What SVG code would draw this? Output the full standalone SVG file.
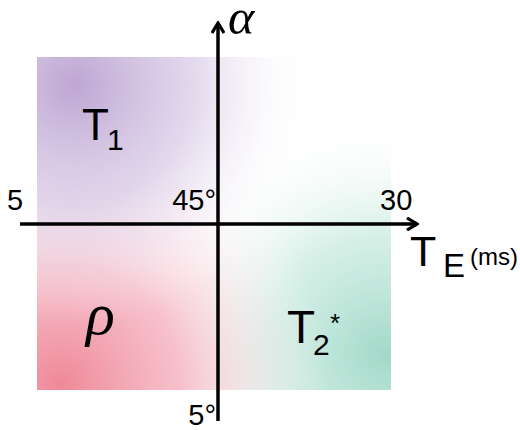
<svg xmlns="http://www.w3.org/2000/svg" width="520" height="430" viewBox="0 0 520 430">
  <style>
    .lbl { font-family: "Liberation Sans", Arial, sans-serif; fill: #000; }
    .greek { font-family: "Liberation Serif", "Times New Roman", serif; font-style: italic; fill: #000; }
    .axis { stroke: #000; stroke-width: 3.5; fill: none; }
  </style>
  <defs>
    <radialGradient id="gPurple" gradientUnits="userSpaceOnUse" cx="75" cy="85" r="240">
      <stop offset="0" stop-color="#bea6d3" stop-opacity="1"/>
      <stop offset="0.5" stop-color="#d9cce7" stop-opacity="0.75"/>
      <stop offset="1" stop-color="#ffffff" stop-opacity="0"/>
    </radialGradient>
    <radialGradient id="gPink" gradientUnits="userSpaceOnUse" cx="60" cy="385" r="270">
      <stop offset="0" stop-color="#ef8898" stop-opacity="1"/>
      <stop offset="0.45" stop-color="#f5b6c3" stop-opacity="0.85"/>
      <stop offset="1" stop-color="#ffffff" stop-opacity="0"/>
    </radialGradient>
    <radialGradient id="gTeal" gradientUnits="userSpaceOnUse" cx="385" cy="355" r="240">
      <stop offset="0" stop-color="#a2d9c8" stop-opacity="1"/>
      <stop offset="0.5" stop-color="#c8eae0" stop-opacity="0.75"/>
      <stop offset="1" stop-color="#ffffff" stop-opacity="0"/>
    </radialGradient>
    <marker id="arrow" viewBox="0 0 14 14" refX="12" refY="7" markerWidth="14" markerHeight="14" markerUnits="userSpaceOnUse" orient="auto">
      <path d="M2,1 L12,7 L2,13" fill="none" stroke="#000" stroke-width="3.2" stroke-linejoin="miter"/>
    </marker>
  </defs>

  <g id="background">
    <rect x="37" y="57" width="354" height="333" fill="#ffffff"/>
    <rect x="37" y="57" width="354" height="333" fill="url(#gTeal)"/>
    <rect x="37" y="57" width="354" height="333" fill="url(#gPink)"/>
    <rect x="37" y="57" width="354" height="333" fill="url(#gPurple)"/>
  </g>

  <g id="connectors">
    <line class="axis" x1="20" y1="224" x2="417" y2="224" marker-end="url(#arrow)"/>
    <line class="axis" x1="218" y1="421" x2="218" y2="23" marker-end="url(#arrow)"/>
  </g>

  <g id="alpha-label"><text class="greek" x="228" y="34" font-size="50">α</text></g>
  <g id="T1"><text class="lbl" x="82" y="140" font-size="44">T</text><text class="lbl" x="107" y="150" font-size="30">1</text></g>
  <g id="tick-5"><text class="lbl" x="7" y="210" font-size="29">5</text></g>
  <g id="tick-45"><text class="lbl" x="216" y="210" font-size="29" text-anchor="end">45°</text></g>
  <g id="tick-30"><text class="lbl" x="380" y="210" font-size="29">30</text></g>
  <g id="TE-label"><text class="lbl" x="410" y="266" font-size="43">T</text><text class="lbl" x="443" y="277" font-size="33">E</text><text class="lbl" x="470" y="265" font-size="24">(ms)</text></g>
  <g id="rho"><text class="greek" x="86" y="334" font-size="60">ρ</text></g>
  <g id="T2star"><text class="lbl" x="287" y="343" font-size="46">T</text><text class="lbl" x="313" y="355" font-size="30">2</text><text class="lbl" x="330" y="332" font-size="26">*</text></g>
  <g id="tick-5deg"><text class="lbl" x="216" y="425" font-size="29" text-anchor="end">5°</text></g>
</svg>
